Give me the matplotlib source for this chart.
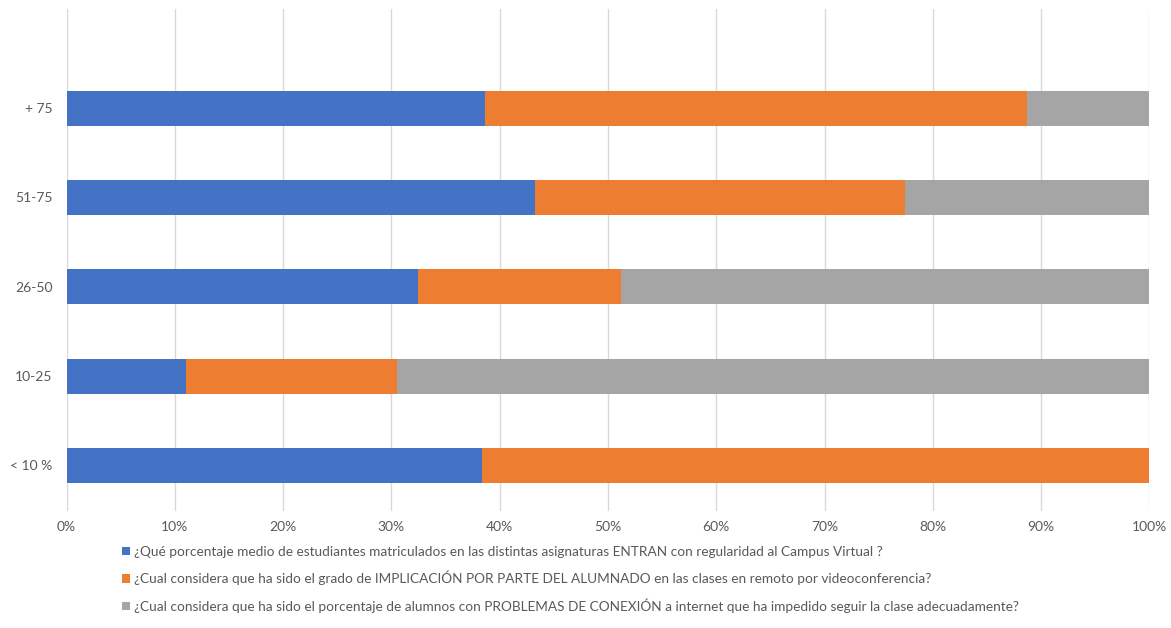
import numpy as np
import matplotlib.pyplot as plt

# rangos (de abajo hacia arriba, como en el gráfico)
categories = ["< 10 %", "10-25", "26-50", "51-75", "+ 75"]

# porcentajes por serie
entran = [38.4, 11.0, 32.5, 43.3, 38.6]
implicacion = [61.6, 19.5, 18.7, 34.1, 50.1]
problemas = [0.0, 69.5, 48.8, 22.6, 11.3]

series_labels = [
    "¿Qué porcentaje medio de estudiantes matriculados en las distintas asignaturas ENTRAN con regularidad al Campus Virtual ?",
    "¿Cual considera que ha sido el grado de IMPLICACIÓN POR PARTE DEL ALUMNADO en las clases en remoto por videoconferencia?",
    "¿Cual considera que ha sido el porcentaje de alumnos con PROBLEMAS DE CONEXIÓN a internet que ha impedido seguir la clase adecuadamente?",
]
colors = ["#4472C4", "#ED7D31", "#A5A5A5"]

plt.rcParams["font.family"] = ["Lato", "DejaVu Sans"]

fig = plt.figure(figsize=(11.71, 6.28), dpi=100)
ax = fig.add_axes([0.0568, 0.1863, 0.9248, 0.7994])

y = np.arange(len(categories))
left = np.zeros(len(categories))
for vals, col, lab in zip([entran, implicacion, problemas], colors, series_labels):
    ax.barh(y, vals, left=left, height=0.39, color=col, label=lab, zorder=3)
    left += np.array(vals)

ax.set_xlim(0, 100)
ax.set_ylim(-0.51, 5.11)
ax.set_xticks(np.arange(0, 101, 10))
ax.set_xticklabels([f"{v}%" for v in range(0, 101, 10)])
ax.set_yticks(y)
ax.set_yticklabels(categories)
ax.grid(axis="x", color="#D9D9D9", linewidth=1, zorder=0)
for s in ax.spines.values():
    s.set_visible(False)
ax.tick_params(axis="both", length=0, labelsize=10, labelcolor="#595959")
ax.tick_params(axis="y", pad=10)
ax.tick_params(axis="x", pad=7)

fig.legend(loc="upper left", bbox_to_anchor=(115 / 1171, 1 - 539 / 628),
           frameon=False, fontsize=9.8, labelcolor="#595959",
           handlelength=0.6, handleheight=0.6, handletextpad=0.3,
           labelspacing=0.95, borderpad=0)

fig.savefig("out.png", dpi=100)
